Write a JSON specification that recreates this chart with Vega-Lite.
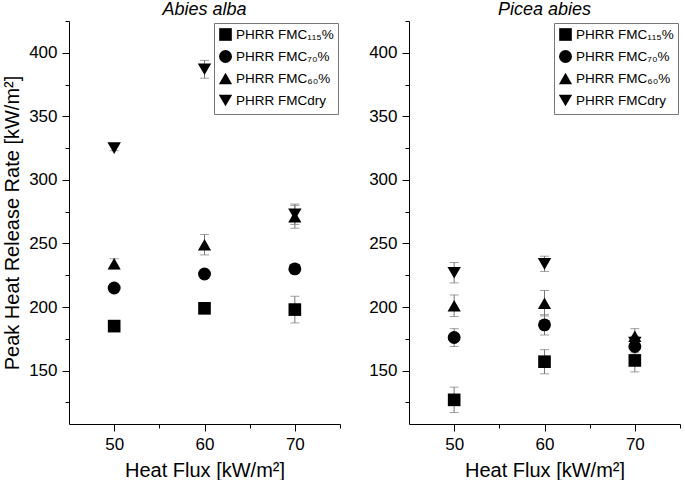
{
  "$schema": "https://vega.github.io/schema/vega-lite/v6.json",
  "padding": {"left": 2, "top": 0, "right": 0, "bottom": 0},
  "background": "white",
  "spacing": 27,
  "config": {
    "font": "Liberation Sans",
    "view": {"stroke": null},
    "axis": {
      "grid": false,
      "domainColor": "black",
      "tickColor": "black",
      "labelColor": "black",
      "titleColor": "black",
      "labelFont": "Liberation Sans",
      "titleFont": "Liberation Sans",
      "labelFontSize": 17,
      "titleFontSize": 20,
      "titleFontWeight": "normal",
      "tickSize": 6,
      "labelPadding": 5
    },
    "title": {"font": "Liberation Sans", "fontSize": 18, "fontStyle": "italic", "fontWeight": "normal", "color": "black", "offset": 2},
    "legend": {
      "orient": "top-right",
      "offset": 2,
      "strokeColor": "#777",
      "fillColor": "white",
      "padding": 4,
      "labelOffset": 3,
      "labelFont": "Liberation Sans",
      "labelFontSize": 13.5,
      "labelColor": "black",
      "symbolFillColor": "black",
      "symbolStrokeColor": "black",
      "rowPadding": 3,
      "title": null
    }
  },
  "datasets": {
    "abies": [
      {"series": "PHRR FMC₁₁₅%", "flux": 50, "value": 185, "err": 3},
      {"series": "PHRR FMC₁₁₅%", "flux": 60, "value": 199, "err": 3},
      {"series": "PHRR FMC₁₁₅%", "flux": 70, "value": 198, "err": 10.5},
      {"series": "PHRR FMC₇₀%", "flux": 50, "value": 215, "err": 2},
      {"series": "PHRR FMC₇₀%", "flux": 60, "value": 226, "err": 2},
      {"series": "PHRR FMC₇₀%", "flux": 70, "value": 230, "err": 2},
      {"series": "PHRR FMC₆₀%", "flux": 50, "value": 234, "err": 4},
      {"series": "PHRR FMC₆₀%", "flux": 60, "value": 249, "err": 8},
      {"series": "PHRR FMC₆₀%", "flux": 70, "value": 271, "err": 9},
      {"series": "PHRR FMCdry", "flux": 50, "value": 325, "err": 2},
      {"series": "PHRR FMCdry", "flux": 60, "value": 387, "err": 7},
      {"series": "PHRR FMCdry", "flux": 70, "value": 273, "err": 8}
    ],
    "picea": [
      {"series": "PHRR FMC₁₁₅%", "flux": 50, "value": 127, "err": 10},
      {"series": "PHRR FMC₁₁₅%", "flux": 60, "value": 157, "err": 9.5},
      {"series": "PHRR FMC₁₁₅%", "flux": 70, "value": 158, "err": 9},
      {"series": "PHRR FMC₇₀%", "flux": 50, "value": 176, "err": 7},
      {"series": "PHRR FMC₇₀%", "flux": 60, "value": 186, "err": 8},
      {"series": "PHRR FMC₇₀%", "flux": 70, "value": 169, "err": 5},
      {"series": "PHRR FMC₆₀%", "flux": 50, "value": 201, "err": 8.5},
      {"series": "PHRR FMC₆₀%", "flux": 60, "value": 203, "err": 10},
      {"series": "PHRR FMC₆₀%", "flux": 70, "value": 177, "err": 6},
      {"series": "PHRR FMCdry", "flux": 50, "value": 227, "err": 8},
      {"series": "PHRR FMCdry", "flux": 60, "value": 234, "err": 6},
      {"series": "PHRR FMCdry", "flux": 70, "value": 172, "err": 5}
    ]
  },
  "hconcat": [
    {
      "title": "Abies alba",
      "width": 271,
      "height": 403,
      "data": {"name": "abies"},
      "layer": [
        {
          "mark": {"type": "errorbar", "color": "#777", "ticks": {"size": 9, "color": "#777"}},
          "encoding": {
            "x": {"field": "flux", "type": "quantitative", "scale": {"domain": [45, 75], "nice": false, "zero": false},
              "axis": {"title": "Heat Flux [kW/m²]", "values": [50, 55, 60, 65, 70, 75], "labelExpr": "datum.value % 10 === 0 ? datum.label : ''", "titlePadding": 8, "tickSize": {"condition": {"test": "datum.value % 10 === 0", "value": 7}, "value": 4}}},
            "y": {"field": "value", "type": "quantitative", "scale": {"domain": [108, 425], "nice": false, "zero": false},
              "axis": {"title": "Peak Heat Release Rate [kW/m²]", "values": [125, 150, 175, 200, 225, 250, 275, 300, 325, 350, 375, 400, 425], "labelExpr": "datum.value % 50 === 0 && datum.value < 425 ? datum.label : ''", "titlePadding": 6, "tickSize": {"condition": {"test": "datum.value % 50 === 0", "value": 7}, "value": 4}}},
            "yError": {"field": "err"}
          }
        },
        {
          "mark": {"type": "point", "filled": true, "color": "black", "opacity": 1},
          "encoding": {
            "x": {"field": "flux", "type": "quantitative", "scale": {"domain": [45, 75], "nice": false, "zero": false},
              "axis": {"title": "Heat Flux [kW/m²]", "values": [50, 55, 60, 65, 70, 75], "labelExpr": "datum.value % 10 === 0 ? datum.label : ''", "titlePadding": 8, "tickSize": {"condition": {"test": "datum.value % 10 === 0", "value": 7}, "value": 4}}},
            "y": {"field": "value", "type": "quantitative", "scale": {"domain": [108, 425], "nice": false, "zero": false},
              "axis": {"title": "Peak Heat Release Rate [kW/m²]", "values": [125, 150, 175, 200, 225, 250, 275, 300, 325, 350, 375, 400, 425], "labelExpr": "datum.value % 50 === 0 && datum.value < 425 ? datum.label : ''", "titlePadding": 6, "tickSize": {"condition": {"test": "datum.value % 50 === 0", "value": 7}, "value": 4}}},
            "shape": {"field": "series", "type": "nominal",
              "scale": {"domain": ["PHRR FMC₁₁₅%", "PHRR FMC₇₀%", "PHRR FMC₆₀%", "PHRR FMCdry"], "range": ["square", "circle", "triangle-up", "triangle-down"]}},
            "size": {"field": "series", "type": "nominal",
              "scale": {"domain": ["PHRR FMC₁₁₅%", "PHRR FMC₇₀%", "PHRR FMC₆₀%", "PHRR FMCdry"], "range": [160, 180, 260, 260]}}
          }
        }
      ]
    },
    {
      "title": "Picea abies",
      "width": 271,
      "height": 403,
      "data": {"name": "picea"},
      "layer": [
        {
          "mark": {"type": "errorbar", "color": "#777", "ticks": {"size": 9, "color": "#777"}},
          "encoding": {
            "x": {"field": "flux", "type": "quantitative", "scale": {"domain": [45, 75], "nice": false, "zero": false},
              "axis": {"title": "Heat Flux [kW/m²]", "values": [50, 55, 60, 65, 70, 75], "labelExpr": "datum.value % 10 === 0 ? datum.label : ''", "titlePadding": 8, "tickSize": {"condition": {"test": "datum.value % 10 === 0", "value": 7}, "value": 4}}},
            "y": {"field": "value", "type": "quantitative", "scale": {"domain": [108, 425], "nice": false, "zero": false},
              "axis": {"title": null, "values": [125, 150, 175, 200, 225, 250, 275, 300, 325, 350, 375, 400, 425], "labelExpr": "datum.value % 50 === 0 && datum.value < 425 ? datum.label : ''", "tickSize": {"condition": {"test": "datum.value % 50 === 0", "value": 7}, "value": 4}}},
            "yError": {"field": "err"}
          }
        },
        {
          "mark": {"type": "point", "filled": true, "color": "black", "opacity": 1},
          "encoding": {
            "x": {"field": "flux", "type": "quantitative", "scale": {"domain": [45, 75], "nice": false, "zero": false},
              "axis": {"title": "Heat Flux [kW/m²]", "values": [50, 55, 60, 65, 70, 75], "labelExpr": "datum.value % 10 === 0 ? datum.label : ''", "titlePadding": 8, "tickSize": {"condition": {"test": "datum.value % 10 === 0", "value": 7}, "value": 4}}},
            "y": {"field": "value", "type": "quantitative", "scale": {"domain": [108, 425], "nice": false, "zero": false},
              "axis": {"title": null, "values": [125, 150, 175, 200, 225, 250, 275, 300, 325, 350, 375, 400, 425], "labelExpr": "datum.value % 50 === 0 && datum.value < 425 ? datum.label : ''", "tickSize": {"condition": {"test": "datum.value % 50 === 0", "value": 7}, "value": 4}}},
            "shape": {"field": "series", "type": "nominal",
              "scale": {"domain": ["PHRR FMC₁₁₅%", "PHRR FMC₇₀%", "PHRR FMC₆₀%", "PHRR FMCdry"], "range": ["square", "circle", "triangle-up", "triangle-down"]}},
            "size": {"field": "series", "type": "nominal",
              "scale": {"domain": ["PHRR FMC₁₁₅%", "PHRR FMC₇₀%", "PHRR FMC₆₀%", "PHRR FMCdry"], "range": [160, 180, 260, 260]}}
          }
        }
      ]
    }
  ],
  "resolve": {"scale": {"shape": "independent", "size": "independent"}, "legend": {"shape": "independent", "size": "independent"}}
}
